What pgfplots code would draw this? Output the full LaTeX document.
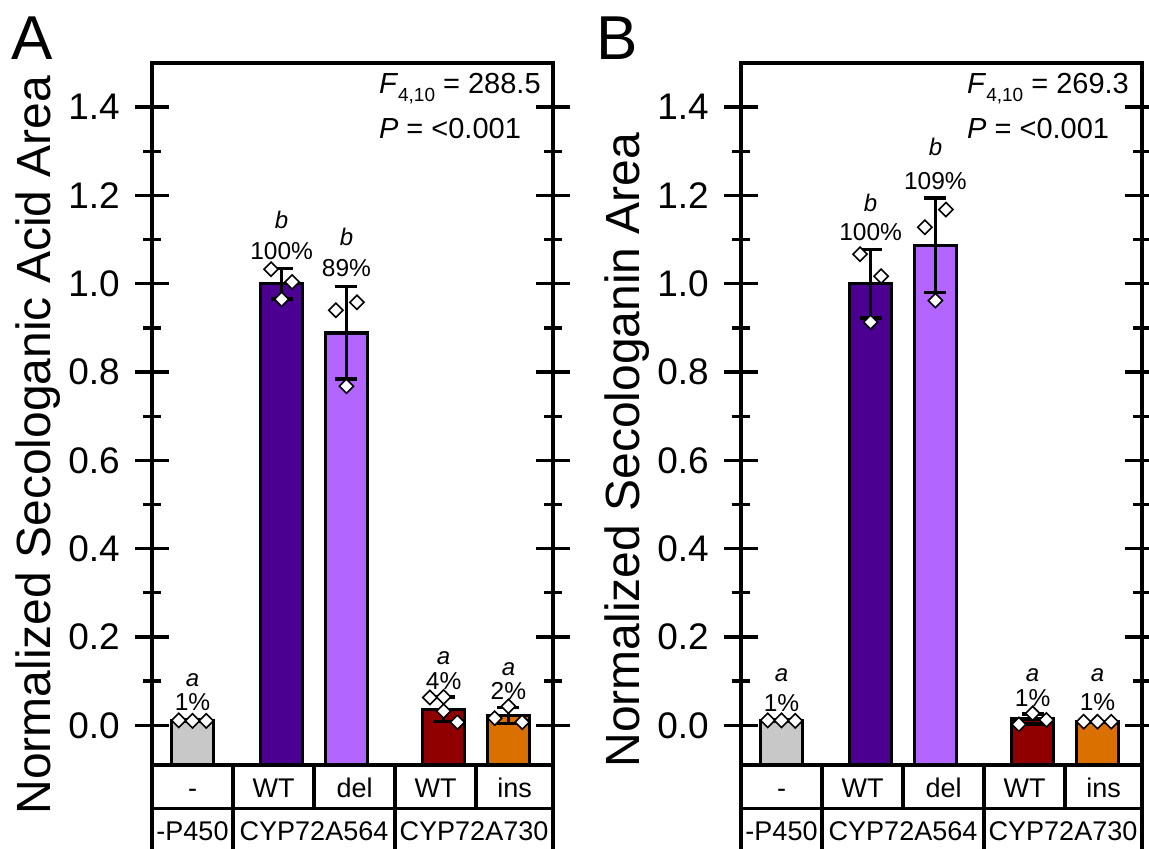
\documentclass[border=0pt]{standalone}
\usepackage{fontspec}
\setmainfont{Liberation Sans}
\usepackage{pgfplots}
\pgfplotsset{compat=1.18}

\definecolor{cgrey}{RGB}{200,200,200}
\definecolor{cindigo}{RGB}{75,0,145}
\definecolor{clilac}{RGB}{178,102,255}
\definecolor{cred}{RGB}{145,0,0}
\definecolor{corange}{RGB}{218,112,0}

\pgfplotsset{
  panel/.style={
    scale only axis, width=401bp, height=702bp,
    xmin=0, xmax=4.95, ymin=-0.09, ymax=1.5,
    clip=false,
    axis line style={line width=3.3bp, line cap=rect},
    xtick=\empty,
    ytick={0,0.2,0.4,0.6,0.8,1.0,1.2,1.4},
    yticklabels={0.0,0.2,0.4,0.6,0.8,1.0,1.2,1.4},
    minor ytick={0.1,0.3,0.5,0.7,0.9,1.1,1.3},
    tick align=center,
    major tick length=34bp, minor tick length=18bp,
    tick style={black, line width=3.3bp},
    major tick style={black, line width=3.3bp},
    minor tick style={black, line width=3.3bp},
    y tick label style={font=\fontsize{37bp}{40bp}\selectfont, anchor=east, inner sep=0pt, xshift=-15bp},
  },
  barbox/.style={draw=black, line width=3.5bp, line join=miter},
  sdline/.style={black, line width=3.5bp, mark=none, forget plot},
  sdcap/.style={only marks, mark=-, mark size=11bp, forget plot,
    mark options={draw=black, line width=3.5bp}},
  dots/.style={only marks, mark=square*, mark size=5bp,
    mark options={fill=white, draw=black, line width=1.6bp, rotate=45}},
}
\tikzset{
  pct/.style={font=\fontsize{24.5bp}{26bp}\selectfont, inner sep=0pt},
  grp/.style={font=\fontsize{24bp}{26bp}\selectfont\itshape, inner sep=0pt},
  cell/.style={font=\fontsize{27bp}{29bp}\selectfont, inner sep=0pt, anchor=base},
  tline/.style={line width=3.3bp, line cap=rect},
}

% one SD bar: x, lower end, upper end
\newcommand{\sdbar}[3]{%
  \addplot[sdline] coordinates {(#1,#2) (#1,#3)};
  \addplot[sdcap] coordinates {(#1,#2) (#1,#3)};}

% stats line: F_{4,10} = value
\newcommand{\fstat}[1]{\textit{F}\raisebox{-8bp}{\fontsize{19bp}{19bp}\selectfont 4,10} = #1}

% table of sample names below each panel
\newcommand{\sampletable}{%
  \draw[tline] (axis cs:0,-0.09) -- (axis cs:0,-0.31);
  \draw[tline] (axis cs:4.95,-0.09) -- (axis cs:4.95,-0.31);
  \draw[tline] (axis cs:0,-0.188) -- (axis cs:4.95,-0.188);
  \draw[tline] (axis cs:1,-0.09) -- (axis cs:1,-0.31);
  \draw[tline] (axis cs:2,-0.09) -- (axis cs:2,-0.188);
  \draw[tline] (axis cs:3,-0.09) -- (axis cs:3,-0.31);
  \draw[tline] (axis cs:4,-0.09) -- (axis cs:4,-0.188);
  \node[cell] at (axis cs:0.5,-0.163) {-};
  \node[cell] at (axis cs:1.5,-0.163) {WT};
  \node[cell] at (axis cs:2.5,-0.163) {del};
  \node[cell] at (axis cs:3.5,-0.163) {WT};
  \node[cell] at (axis cs:4.475,-0.163) {ins};
  \node[cell] at (axis cs:0.5,-0.2605) {-P450};
  \node[cell] at (axis cs:2,-0.2605) {CYP72A564};
  \node[cell] at (axis cs:3.975,-0.2605) {CYP72A730};
}

\begin{document}
\begin{tikzpicture}
\useasboundingbox (0,0) rectangle (1149bp,849bp);

\node[anchor=base west, inner sep=0pt, font=\fontsize{62bp}{62bp}\selectfont] at (11bp,789bp) {A};
\node[anchor=base west, inner sep=0pt, font=\fontsize{62bp}{62bp}\selectfont] at (596bp,789bp) {B};
\node[rotate=90, anchor=base, inner sep=0pt, font=\fontsize{48bp}{48bp}\selectfont] at (50bp,404bp) {Normalized Secologanic Acid Area};
\node[rotate=90, anchor=base, inner sep=0pt, font=\fontsize{48bp}{48bp}\selectfont] at (639bp,399bp) {Normalized Secologanin Area};

% ---------- panel A: secologanic acid ----------
\begin{axis}[panel, at={(152bp,84bp)}, anchor=south west]
  \addplot[barbox, fill=cgrey]   coordinates {(0.24,-0.09) (0.24,0.010) (0.76,0.010) (0.76,-0.09) (0.24,-0.09)};
  \addplot[barbox, fill=cindigo] coordinates {(1.34,-0.09) (1.34,1.000) (1.86,1.000) (1.86,-0.09) (1.34,-0.09)};
  \addplot[barbox, fill=clilac]  coordinates {(2.14,-0.09) (2.14,0.889) (2.66,0.889) (2.66,-0.09) (2.14,-0.09)};
  \addplot[barbox, fill=cred]    coordinates {(3.34,-0.09) (3.34,0.036) (3.86,0.036) (3.86,-0.09) (3.34,-0.09)};
  \addplot[barbox, fill=corange] coordinates {(4.14,-0.09) (4.14,0.022) (4.66,0.022) (4.66,-0.09) (4.14,-0.09)};

  % mean - SD, mean + SD
  \sdbar{0.5}{0.008}{0.012}
  \sdbar{1.6}{0.966}{1.034}
  \sdbar{2.4}{0.784}{0.994}
  \sdbar{3.6}{0.008}{0.064}
  \sdbar{4.4}{0.004}{0.040}

  \addplot[dots] coordinates {
    (0.33,0.011) (0.5,0.010) (0.67,0.010)
    (1.47,1.033) (1.6,0.965) (1.73,1.004)
    (2.27,0.940) (2.4,0.768) (2.53,0.958)
    (3.43,0.063) (3.6,0.064) (3.6,0.032) (3.77,0.007)
    (4.23,0.016) (4.4,0.043) (4.57,0.007)};

  \node[grp] at (axis cs:0.5,0.102) {a};   \node[pct] at (axis cs:0.5,0.052) {1\%};
  \node[grp] at (axis cs:1.6,1.144) {b};   \node[pct] at (axis cs:1.6,1.074) {100\%};
  \node[grp] at (axis cs:2.4,1.106) {b};   \node[pct] at (axis cs:2.4,1.035) {89\%};
  \node[grp] at (axis cs:3.6,0.152) {a};   \node[pct] at (axis cs:3.6,0.100) {4\%};
  \node[grp] at (axis cs:4.4,0.127) {a};   \node[pct] at (axis cs:4.4,0.078) {2\%};

  \node[anchor=base west, inner sep=0pt, font=\fontsize{29bp}{30bp}\selectfont] at (axis cs:2.80,1.432) {\fstat{288.5}};
  \node[anchor=base west, inner sep=0pt, font=\fontsize{29bp}{30bp}\selectfont] at (axis cs:2.80,1.330) {\textit{P} = <0.001};

  \sampletable
\end{axis}

% ---------- panel B: secologanin ----------
\begin{axis}[panel, at={(741bp,84bp)}, anchor=south west]
  \addplot[barbox, fill=cgrey]   coordinates {(0.24,-0.09) (0.24,0.010) (0.76,0.010) (0.76,-0.09) (0.24,-0.09)};
  \addplot[barbox, fill=cindigo] coordinates {(1.34,-0.09) (1.34,1.000) (1.86,1.000) (1.86,-0.09) (1.34,-0.09)};
  \addplot[barbox, fill=clilac]  coordinates {(2.14,-0.09) (2.14,1.087) (2.66,1.087) (2.66,-0.09) (2.14,-0.09)};
  \addplot[barbox, fill=cred]    coordinates {(3.34,-0.09) (3.34,0.014) (3.86,0.014) (3.86,-0.09) (3.34,-0.09)};
  \addplot[barbox, fill=corange] coordinates {(4.14,-0.09) (4.14,0.008) (4.66,0.008) (4.66,-0.09) (4.14,-0.09)};

  % mean - SD, mean + SD
  \sdbar{0.5}{0.008}{0.012}
  \sdbar{1.6}{0.922}{1.078}
  \sdbar{2.4}{0.980}{1.194}
  \sdbar{3.6}{0.003}{0.025}
  \sdbar{4.4}{0.007}{0.009}

  \addplot[dots] coordinates {
    (0.33,0.011) (0.5,0.011) (0.67,0.010)
    (1.47,1.067) (1.6,0.913) (1.73,1.017)
    (2.27,1.128) (2.4,0.962) (2.53,1.168)
    (3.43,0.002) (3.6,0.027) (3.77,0.012)
    (4.23,0.008) (4.4,0.008) (4.57,0.008)};

  \node[grp] at (axis cs:0.5,0.113) {a};   \node[pct] at (axis cs:0.5,0.050) {1\%};
  \node[grp] at (axis cs:1.6,1.183) {b};   \node[pct] at (axis cs:1.6,1.117) {100\%};
  \node[grp] at (axis cs:2.4,1.310) {b};   \node[pct] at (axis cs:2.4,1.232) {109\%};
  \node[grp] at (axis cs:3.6,0.113) {a};   \node[pct] at (axis cs:3.6,0.061) {1\%};
  \node[grp] at (axis cs:4.4,0.113) {a};   \node[pct] at (axis cs:4.4,0.052) {1\%};

  \node[anchor=base west, inner sep=0pt, font=\fontsize{29bp}{30bp}\selectfont] at (axis cs:2.79,1.432) {\fstat{269.3}};
  \node[anchor=base west, inner sep=0pt, font=\fontsize{29bp}{30bp}\selectfont] at (axis cs:2.79,1.330) {\textit{P} = <0.001};

  \sampletable
\end{axis}
\end{tikzpicture}
\end{document}
